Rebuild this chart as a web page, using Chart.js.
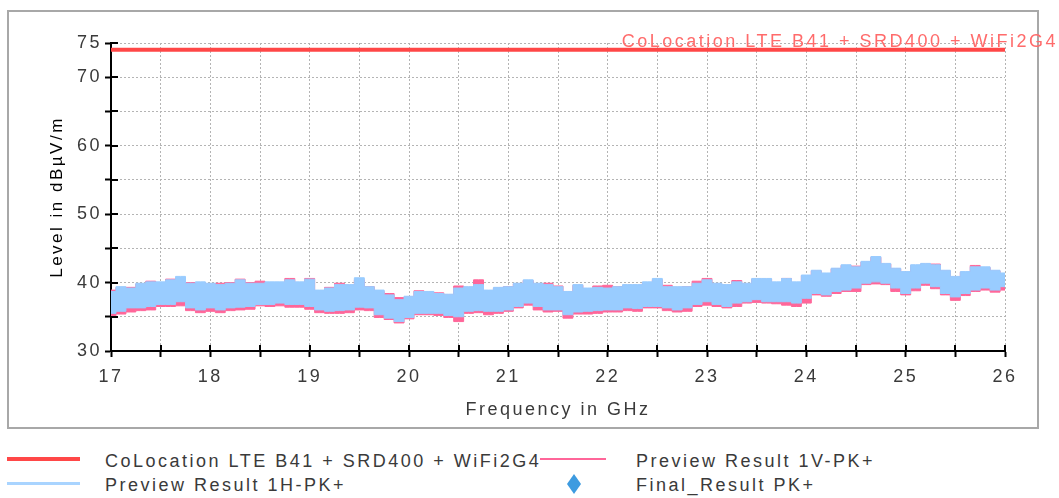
<!DOCTYPE html>
<html>
<head>
<meta charset="utf-8">
<script src="https://cdn.jsdelivr.net/npm/chart.js@4.4.0/dist/chart.umd.min.js"></script>
<style>
    html, body { margin: 0; padding: 0; background: #fff; }
    #wrap { position: relative; width: 1059px; height: 498px; overflow: hidden; font-family: 'Liberation Sans', Arial, sans-serif; }
    #emiChart { position: absolute; left: 0; top: 0; }
    .lg-text { position: absolute; font-size: 18px; letter-spacing: 2.5px; color: #3a3a3a; line-height: 22px; white-space: nowrap; }
    .lg-sym { position: absolute; }
</style>
</head>
<body>
<div id="wrap">
    <canvas id="emiChart" width="1059" height="440"></canvas>

    <div class="lg-sym" style="left:7px;top:457px;width:73px;height:4px;background:#ff4747;"></div>
    <div class="lg-text" style="left:105px;top:450px;">CoLocation LTE B41 + SRD400 + WiFi2G4</div>
    <div class="lg-sym" style="left:540px;top:458px;width:66px;height:2px;background:#ff6699;"></div>
    <div class="lg-text" style="left:636px;top:450px;">Preview Result 1V-PK+</div>

    <div class="lg-sym" style="left:7px;top:482px;width:73px;height:3px;background:#a9d4ff;"></div>
    <div class="lg-text" style="left:105px;top:474px;">Preview Result 1H-PK+</div>
    <div class="lg-sym" style="left:567px;top:474px;width:14px;height:20px;background:#3d9be0;clip-path:polygon(50% 0,100% 50%,50% 100%,0 50%);"></div>
    <div class="lg-text" style="left:636px;top:474px;">Final_Result PK+</div>
</div>

<script>
// Frequency axis (GHz) - sample points every 0.1 GHz
const freqs = [
    17.0, 17.1, 17.2, 17.3, 17.4, 17.5, 17.6, 17.7, 17.8, 17.9,
    18.0, 18.1, 18.2, 18.3, 18.4, 18.5, 18.6, 18.7, 18.8, 18.9,
    19.0, 19.1, 19.2, 19.3, 19.4, 19.5, 19.6, 19.7, 19.8, 19.9,
    20.0, 20.1, 20.2, 20.3, 20.4, 20.5, 20.6, 20.7, 20.8, 20.9,
    21.0, 21.1, 21.2, 21.3, 21.4, 21.5, 21.6, 21.7, 21.8, 21.9,
    22.0, 22.1, 22.2, 22.3, 22.4, 22.5, 22.6, 22.7, 22.8, 22.9,
    23.0, 23.1, 23.2, 23.3, 23.4, 23.5, 23.6, 23.7, 23.8, 23.9,
    24.0, 24.1, 24.2, 24.3, 24.4, 24.5, 24.6, 24.7, 24.8, 24.9,
    25.0, 25.1, 25.2, 25.3, 25.4, 25.5, 25.6, 25.7, 25.8, 25.9,
    26.0
];

// CoLocation limit line (dBuV/m)
const limitFreqs = [17, 26];
const limitLevels = [74, 74];

// Preview Result 1H-PK+ : upper / lower envelope of the trace
const h1Upper = [
    38.7, 39.4, 39.2, 39.9, 40.1, 40.1, 40.4, 40.9, 39.9, 40.1,
    39.9, 39.7, 39.9, 40.4, 39.9, 39.9, 40.1, 40.1, 40.4, 40.1,
    40.5, 38.9, 39.2, 39.7, 39.7, 40.7, 39.4, 38.9, 38.2, 37.5,
    38.0, 38.7, 38.7, 38.4, 38.3, 39.2, 39.4, 39.7, 38.9, 39.3,
    39.4, 39.9, 40.4, 39.9, 39.7, 39.4, 38.7, 39.7, 39.2, 39.3,
    39.2, 39.4, 39.7, 39.7, 40.1, 40.6, 39.4, 39.4, 39.4, 39.9,
    40.4, 39.9, 39.7, 40.1, 39.9, 40.6, 40.6, 40.1, 40.6, 40.1,
    41.1, 41.8, 41.4, 42.1, 42.6, 42.3, 43.1, 43.8, 42.8, 42.1,
    41.6, 42.6, 42.8, 42.6, 41.8, 40.9, 41.6, 42.3, 42.3, 41.8,
    41.4
];
const h1Lower = [
    35.5, 35.8, 36.3, 36.3, 36.5, 36.8, 36.8, 37.2, 36.3, 36.0,
    36.3, 36.0, 36.3, 36.4, 36.5, 36.8, 36.8, 37.0, 36.8, 36.8,
    36.5, 36.0, 35.8, 35.9, 36.0, 36.4, 36.3, 35.3, 34.8, 34.3,
    34.9, 35.5, 35.5, 35.5, 35.2, 35.0, 35.8, 35.9, 35.8, 35.8,
    36.0, 36.5, 37.0, 36.5, 36.0, 36.0, 35.3, 35.7, 35.8, 35.9,
    36.0, 36.0, 36.3, 36.2, 36.5, 36.5, 36.3, 36.0, 36.3, 36.8,
    37.2, 36.8, 36.5, 37.0, 37.2, 37.5, 37.2, 37.2, 37.2, 37.0,
    37.7, 38.4, 38.2, 38.7, 38.9, 39.2, 39.9, 40.1, 39.9, 39.2,
    38.4, 39.2, 39.9, 39.4, 38.4, 37.9, 38.4, 38.9, 39.2, 38.9,
    39.4
];

// Preview Result 1V-PK+ : upper / lower envelope of the trace
const v1Upper = [
    38.9, 39.3, 39.3, 39.8, 40.2, 40.0, 40.5, 40.6, 40.0, 40.0,
    39.8, 39.9, 40.0, 40.5, 40.0, 40.2, 40.0, 40.0, 40.6, 40.0,
    40.6, 38.8, 39.3, 39.9, 39.6, 40.4, 39.4, 38.7, 38.4, 37.8,
    37.9, 38.8, 38.6, 38.5, 38.2, 39.5, 39.3, 40.4, 38.8, 39.2,
    39.4, 39.8, 40.3, 39.8, 39.9, 39.5, 38.6, 39.6, 39.1, 39.5,
    39.6, 39.4, 39.6, 39.6, 40.0, 40.4, 39.6, 39.3, 39.4, 40.2,
    40.6, 39.8, 39.6, 40.3, 39.8, 40.5, 40.5, 40.0, 40.6, 40.0,
    41.0, 41.7, 41.3, 42.0, 42.5, 42.4, 43.0, 43.7, 42.7, 42.0,
    41.5, 42.5, 42.7, 42.7, 41.7, 40.8, 41.5, 42.5, 42.2, 41.7,
    41.3
];
const v1Lower = [
    35.0, 35.4, 35.7, 35.9, 36.0, 36.5, 36.5, 36.6, 35.9, 35.6,
    35.8, 35.6, 35.9, 36.0, 36.1, 36.6, 36.5, 36.6, 36.4, 36.4,
    36.1, 35.6, 35.5, 35.5, 35.6, 36.0, 35.9, 34.9, 34.6, 34.1,
    34.7, 35.3, 35.3, 35.2, 34.9, 34.3, 35.5, 35.6, 35.3, 35.5,
    35.8, 36.3, 36.7, 36.0, 35.7, 35.8, 34.8, 35.4, 35.4, 35.5,
    35.7, 35.7, 35.9, 35.8, 36.3, 36.3, 35.9, 35.7, 35.8, 36.5,
    36.7, 36.5, 36.3, 36.5, 37.0, 37.1, 37.0, 36.9, 36.7, 36.5,
    37.0, 38.2, 38.0, 38.4, 38.7, 38.7, 39.7, 39.8, 39.7, 38.7,
    38.2, 38.8, 39.6, 39.1, 38.2, 37.4, 38.1, 38.7, 38.9, 38.6,
    38.9
];

const limitLabel = 'CoLocation LTE B41 + SRD400 + WiFi2G4';
const yLabelledTicks = [30, 40, 50, 60, 70, 75];

const colors = {
    limit: '#ff4747',
    limitText: '#ff6b6b',
    v1: '#ff6699',
    h1: '#99ccff',
    grid: '#b4b4b4',
    text: '#3a3a3a',
    frame: '#a8a8a8'
};

const FONT = "'Liberation Sans', Arial, sans-serif";
const SPACING = '2.5px';

function toPoints(xs, ys) {
    return xs.map((x, i) => ({ x: x, y: ys[i] }));
}

// letter spacing like the original renderer
const spacingPlugin = {
    id: 'spacing',
    beforeLayout(chart) { chart.ctx.letterSpacing = SPACING; },
    beforeDraw(chart) { chart.ctx.letterSpacing = SPACING; }
};

// outer grey frame
const framePlugin = {
    id: 'frame',
    beforeDraw(chart) {
        const ctx = chart.ctx;
        ctx.save();
        ctx.strokeStyle = colors.frame;
        ctx.lineWidth = 2;
        ctx.strokeRect(8, 11, 1030, 417);
        ctx.restore();
    }
};

// tick marks that cross the axis line + the limit label
const axisExtrasPlugin = {
    id: 'axisExtras',
    afterDraw(chart) {
        const ctx = chart.ctx;
        const xs = chart.scales.x;
        const ys = chart.scales.y;
        const area = chart.chartArea;
        ctx.save();
        ctx.strokeStyle = '#000';
        ctx.lineWidth = 2;
        ctx.beginPath();
        xs.ticks.forEach(t => {
            if (t.value === xs.min) return;
            const px = Math.round(xs.getPixelForValue(t.value));
            ctx.moveTo(px, area.bottom - 6);
            ctx.lineTo(px, area.bottom);
        });
        ys.ticks.forEach(t => {
            if (t.value === ys.min) return;
            const py = Math.round(ys.getPixelForValue(t.value));
            ctx.moveTo(area.left, py);
            ctx.lineTo(area.left + 7, py);
        });
        ctx.stroke();

        ctx.font = '18px ' + FONT;
        ctx.letterSpacing = SPACING;
        ctx.fillStyle = colors.limitText;
        ctx.textAlign = 'right';
        ctx.textBaseline = 'alphabetic';
        ctx.fillText(limitLabel, 1058, ys.getPixelForValue(limitLevels[0]) - 3);
        ctx.restore();
    }
};

function initEmiChart() {
    const ctx = document.getElementById('emiChart').getContext('2d');

    window.emiChart = new Chart(ctx, {
        type: 'line',
        data: {
            datasets: [
                {
                    label: limitLabel,
                    data: toPoints(limitFreqs, limitLevels),
                    borderColor: colors.limit,
                    borderWidth: 4,
                    pointRadius: 0,
                    fill: false,
                    order: 0
                },
                {
                    label: 'Preview Result 1V-PK+ low',
                    data: toPoints(freqs, v1Lower),
                    borderColor: colors.v1,
                    borderWidth: 1,
                    pointRadius: 0,
                    stepped: 'middle',
                    fill: false,
                    order: 4
                },
                {
                    label: 'Preview Result 1V-PK+',
                    data: toPoints(freqs, v1Upper),
                    borderColor: colors.v1,
                    backgroundColor: colors.v1,
                    borderWidth: 1,
                    pointRadius: 0,
                    stepped: 'middle',
                    fill: '-1',
                    order: 3
                },
                {
                    label: 'Preview Result 1H-PK+ low',
                    data: toPoints(freqs, h1Lower),
                    borderColor: colors.h1,
                    borderWidth: 1,
                    pointRadius: 0,
                    stepped: 'middle',
                    fill: false,
                    order: 2
                },
                {
                    label: 'Preview Result 1H-PK+',
                    data: toPoints(freqs, h1Upper),
                    borderColor: colors.h1,
                    backgroundColor: colors.h1,
                    borderWidth: 1,
                    pointRadius: 0,
                    stepped: 'middle',
                    fill: '-1',
                    order: 1
                }
            ]
        },
        options: {
            responsive: false,
            animation: false,
            devicePixelRatio: 1,
            layout: {
                padding: { left: 0, right: 54, top: 43, bottom: 0 }
            },
            plugins: {
                legend: { display: false },
                tooltip: { enabled: false }
            },
            scales: {
                x: {
                    type: 'linear',
                    min: 17,
                    max: 26,
                    afterFit(scale) { scale.height = 89; },
                    afterBuildTicks(scale) {
                        const t = [];
                        for (let v = 17; v <= 26.001; v += 0.5) t.push({ value: Math.round(v * 10) / 10 });
                        scale.ticks = t;
                    },
                    grid: {
                        color: colors.grid,
                        lineWidth: 1,
                        drawTicks: true,
                        tickLength: 6,
                        tickColor: '#000',
                        tickWidth: 2
                    },
                    border: { display: true, color: '#000', width: 2, dash: [2, 2] },
                    ticks: {
                        autoSkip: false,
                        maxRotation: 0,
                        padding: 9,
                        color: colors.text,
                        font: { family: FONT, size: 18 },
                        callback: function(value) {
                            return Number.isInteger(value) ? String(value) : '';
                        }
                    },
                    title: {
                        display: true,
                        text: 'Frequency in GHz',
                        color: colors.text,
                        font: { family: FONT, size: 18 },
                        padding: { top: 0, bottom: 19 }
                    }
                },
                y: {
                    min: 30,
                    max: 75,
                    afterFit(scale) { scale.width = 111; },
                    afterBuildTicks(scale) {
                        const t = [];
                        for (let v = 30; v <= 75; v += 5) t.push({ value: v });
                        scale.ticks = t;
                    },
                    grid: {
                        color: colors.grid,
                        lineWidth: 1,
                        drawTicks: true,
                        tickLength: 6,
                        tickColor: '#000',
                        tickWidth: 2
                    },
                    border: { display: true, color: '#000', width: 2, dash: [2, 2] },
                    ticks: {
                        padding: 3,
                        color: colors.text,
                        font: { family: FONT, size: 18 },
                        callback: function(value) {
                            return yLabelledTicks.includes(value) ? String(value) : '';
                        }
                    },
                    title: {
                        display: true,
                        text: 'Level in dBµV/m',
                        color: '#000',
                        font: { family: FONT, size: 17 },
                        padding: { top: 47, bottom: 0 }
                    }
                }
            }
        },
        plugins: [spacingPlugin, framePlugin, axisExtrasPlugin]
    });
}

initEmiChart();
</script>
</body>
</html>
